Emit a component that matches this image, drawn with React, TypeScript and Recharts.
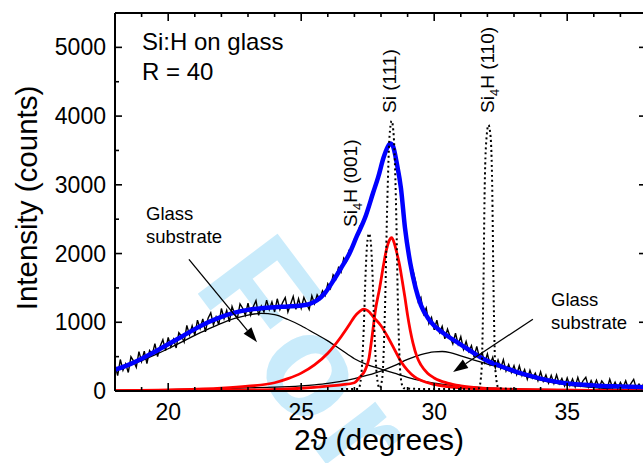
import { LineChart, Line, XAxis, YAxis, ReferenceLine } from 'recharts';

// raw scan: 18.0 .. 38.0 deg, 0.1 deg step
const scanStart = 18;
const scanStep = 0.1;
const scanCounts = [
  380, 224, 458, 302, 396, 270, 498, 436, 344, 572,
  430, 580, 400, 590, 530, 690, 502, 654, 746, 588,
  780, 642, 754, 626, 848, 800, 712, 954, 816, 948,
  810, 1030, 910, 1050, 860, 1060, 1136, 962, 1078, 964,
  1200, 1052, 1174, 1006, 1228, 1120, 1058, 1266, 1204, 1102,
  1280, 1105, 1230, 1315, 1100, 1235, 1148, 1321, 1184, 1297,
  1150, 1342, 1184, 1286, 1358, 1150, 1263, 1376, 1189, 1342,
  1205, 1362, 1269, 1185, 1385, 1270, 1400, 1335, 1460, 1390,
  1560, 1490, 1690, 1630, 1795, 1730, 1935, 1880, 2050, 2050,
  2210, 2230, 2400, 2410, 2560, 2590, 2770, 2860, 3030, 3100,
  3290, 3380, 3510, 3600, 3580, 3520, 3270, 3110, 2750, 2420,
  2180, 1800, 1760, 1590, 1300, 1360, 1120, 1210, 980, 1070,
  890, 1030, 850, 940, 760, 900, 790, 685, 840, 680,
  790, 605, 720, 575, 660, 495, 650, 485, 555, 415,
  540, 385, 490, 335, 450, 330, 455, 290, 385, 270,
  370, 238, 366, 224, 312, 170, 300, 190, 260, 150,
  280, 142, 234, 116, 228, 110, 234, 108, 182, 76,
  190, 77, 174, 61, 198, 75, 152, 199, 56, 153,
  60, 158, 47, 145, 94, 32, 171, 50, 128, 36,
  125, 50, 150, 38, 110, 170, 35, 100, 42, 130,
  80,
];

// total fit (blue)
const fitAngles = [18, 18.5, 19, 19.5, 20, 20.5, 21, 21.5, 22, 22.5, 23, 23.5, 24, 24.5, 25, 25.3, 25.6, 25.9, 26.2, 26.5, 26.8, 27.1, 27.4, 27.7, 27.9, 28.1, 28.25, 28.35, 28.45, 28.6, 28.75, 28.9, 29.1, 29.3, 29.5, 29.75, 30, 30.25, 30.5, 30.9, 31.3, 31.7, 32.1, 32.5, 33, 33.5, 34, 34.5, 35, 35.5, 36, 37, 38];
const fitCounts = [310, 380, 470, 570, 680, 790, 900, 1000, 1080, 1140, 1180, 1205, 1220, 1230, 1245, 1265, 1320, 1430, 1600, 1790, 1990, 2260, 2520, 2880, 3120, 3400, 3550, 3600, 3560, 3300, 2950, 2380, 1860, 1500, 1250, 1070, 950, 870, 800, 700, 600, 500, 420, 360, 290, 230, 180, 140, 110, 95, 80, 65, 55];

// glass substrate components (thin black)
const glassAAngles = [18, 18.5, 19, 19.5, 20, 20.5, 21, 21.5, 22, 22.5, 23, 23.5, 24, 24.5, 25, 25.5, 26, 26.5, 27, 27.5, 28, 28.5, 29, 29.5, 30, 30.5, 31, 32, 33, 34, 36, 38];
const glassACounts = [300, 365, 440, 525, 615, 710, 810, 900, 985, 1055, 1105, 1130, 1110, 1040, 950, 840, 730, 600, 470, 380, 320, 260, 200, 150, 115, 90, 70, 45, 30, 22, 12, 7];
const glassBAngles = [18, 20, 22, 23, 24, 25, 25.5, 26, 26.5, 27, 27.5, 28, 28.5, 29, 29.5, 30, 30.3, 30.6, 31, 31.5, 32, 32.5, 33, 33.5, 34, 34.5, 35, 36, 37, 38];
const glassBCounts = [10, 20, 35, 45, 55, 75, 90, 110, 140, 180, 230, 290, 370, 460, 530, 570, 575, 560, 510, 450, 390, 340, 270, 210, 160, 120, 90, 50, 25, 15];

// crystalline components (red)
const si4hAngles = [18, 20, 22, 23, 24, 24.5, 25, 25.5, 26, 26.5, 26.8, 27, 27.2, 27.35, 27.5, 27.75, 28, 28.25, 28.5, 28.75, 29, 29.25, 29.5, 30, 30.5, 31, 32, 34, 36, 38];
const si4hCounts = [5, 15, 40, 70, 120, 180, 260, 380, 550, 790, 960, 1080, 1160, 1190, 1170, 1060, 950, 790, 610, 430, 300, 210, 155, 95, 65, 45, 28, 14, 8, 5];
const siAngles = [18, 22, 24, 25, 26, 26.5, 27, 27.2, 27.4, 27.55, 27.66, 27.8, 27.95, 28.08, 28.2, 28.3, 28.4, 28.5, 28.6, 28.7, 28.8, 28.9, 29, 29.1, 29.2, 29.35, 29.5, 29.75, 30, 30.5, 31, 31.7, 32.5, 34, 36, 38];
const siCounts = [0, 10, 25, 40, 70, 90, 120, 200, 300, 480, 780, 1200, 1500, 1800, 2050, 2180, 2230, 2150, 2000, 1830, 1600, 1360, 1100, 880, 700, 500, 380, 260, 190, 115, 75, 45, 30, 15, 8, 5];

// reference patterns (dotted)
const refAngles = [26.5, 27.15, 27.25, 27.35, 27.42, 27.48, 27.55, 27.62, 27.68, 27.75, 27.85, 27.95, 28.05, 28.15, 28.24, 28.32, 28.4, 28.48, 28.56, 28.64, 28.74, 28.85, 29.5, 31.55, 31.68, 31.78, 31.85, 31.9, 31.97, 32.04, 32.12, 32.18, 32.23, 32.3, 32.42, 33.2];
const refCounts = [30, 30, 200, 900, 1700, 2150, 2290, 2150, 1700, 900, 200, 40, 200, 1200, 2800, 3700, 3930, 3700, 2800, 1200, 200, 40, 30, 30, 40, 300, 1500, 3000, 3700, 3870, 3700, 3000, 1500, 300, 40, 30];

const xTicks = [18, 19, 20, 21, 22, 23, 24, 25, 26, 27, 28, 29, 30, 31, 32, 33, 34, 35, 36, 37, 38];
const yTicks = [0, 500, 1000, 1500, 2000, 2500, 3000, 3500, 4000, 4500, 5000];

const leftArrow = [{ x: 20.78, y: 1916 }, { x: 23.34, y: 711 }];
const rightArrow = [{ x: 33.71, y: 1045 }, { x: 30.71, y: 276 }];

const pairs = (xs: number[], ys: number[]) => xs.map((x, i) => ({ x, y: ys[i] }));
const scanData = scanCounts.map((y, i) => ({ x: +(scanStart + i * scanStep).toFixed(2), y }));

const FONT = '"Liberation Sans", Arial, Helvetica, sans-serif';

const BottomTick = (props: any) => {
  const { x, y, payload } = props;
  const v = payload.value;
  const major = v % 5 === 0;
  return (
    <g>
      <line x1={x} y1={y} x2={x} y2={y - (major ? 8 : 4)} stroke="#000" strokeWidth={1.6} />
      {major && (
        <text x={x} y={y + 29} textAnchor="middle" fontSize={23} fontFamily={FONT} fill="#000">
          {v}
        </text>
      )}
    </g>
  );
};

const TopTick = (props: any) => {
  const { x, y, payload } = props;
  const major = payload.value % 5 === 0;
  return <line x1={x} y1={y} x2={x} y2={y + (major ? 8 : 4)} stroke="#000" strokeWidth={1.6} />;
};

const LeftTick = (props: any) => {
  const { x, y, payload } = props;
  const v = payload.value;
  const major = v % 1000 === 0;
  return (
    <g>
      <line x1={x} y1={y} x2={x + (major ? 7 : 4)} y2={y} stroke="#000" strokeWidth={1.6} />
      {major && (
        <text x={x - 9} y={y + 8} textAnchor="end" fontSize={23} fontFamily={FONT} fill="#000">
          {v}
        </text>
      )}
    </g>
  );
};

const RightTick = (props: any) => {
  const { x, y, payload } = props;
  const major = payload.value % 1000 === 0;
  return <line x1={x} y1={y} x2={x - (major ? 8 : 4)} y2={y} stroke="#000" strokeWidth={1.6} />;
};

const Arrow = (props: any) => {
  const { x1, y1, x2, y2 } = props;
  const dx = x2 - x1;
  const dy = y2 - y1;
  const len = Math.hypot(dx, dy) || 1;
  const ux = dx / len;
  const uy = dy / len;
  const hl = 15;
  const hw = 5;
  const bx = x2 - ux * hl;
  const by = y2 - uy * hl;
  return (
    <g>
      <line x1={x1} y1={y1} x2={bx} y2={by} stroke="#000" strokeWidth={1.3} />
      <polygon
        points={`${x2},${y2} ${bx - uy * hw},${by + ux * hw} ${bx + uy * hw},${by - ux * hw}`}
        fill="#000"
      />
    </g>
  );
};

const axisLine = { stroke: '#000', strokeWidth: 2 };

export default function App() {
  return (
    <div
      style={{
        position: 'absolute',
        left: 0,
        top: 0,
        width: 643,
        height: 463,
        overflow: 'hidden',
        background: '#fff',
        fontFamily: FONT,
      }}
    >
      <svg width={643} height={463} style={{ position: 'absolute', left: 0, top: 0 }}>
        <text
          x={192}
          y={286}
          transform="rotate(53 192 286)"
          fontSize={145}
          fontWeight={700}
          letterSpacing={8}
          fontFamily={FONT}
          fill="#c9ebfb"
        >
          For
        </text>
      </svg>
      <div style={{ position: 'absolute', left: 0, top: 0 }}>
        <LineChart width={650} height={463} margin={{ top: 0, right: 0, bottom: 0, left: 0 }}>
          <XAxis
            dataKey="x"
            type="number"
            domain={[18, 38]}
            allowDataOverflow
            ticks={xTicks}
            interval={0}
            height={72}
            tickSize={0}
            tickMargin={0}
            tickLine={false}
            tick={BottomTick}
            axisLine={axisLine}
          />
          <XAxis
            xAxisId="top"
            orientation="top"
            dataKey="x"
            type="number"
            domain={[18, 38]}
            allowDataOverflow
            ticks={xTicks}
            interval={0}
            height={13}
            tickSize={0}
            tickMargin={0}
            tickLine={false}
            tick={TopTick}
            axisLine={axisLine}
          />
          <YAxis
            type="number"
            domain={[0, 5500]}
            allowDataOverflow
            ticks={yTicks}
            interval={0}
            width={115}
            tickSize={0}
            tickMargin={0}
            tickLine={false}
            tick={LeftTick}
            axisLine={axisLine}
          />
          <YAxis
            yAxisId="right"
            orientation="right"
            type="number"
            domain={[0, 5500]}
            allowDataOverflow
            ticks={yTicks}
            interval={0}
            width={3}
            tickSize={0}
            tickMargin={0}
            tickLine={false}
            tick={RightTick}
            axisLine={axisLine}
          />
          <Line data={pairs(glassAAngles, glassACounts)} dataKey="y" type="monotone" stroke="#000" strokeWidth={1.3} dot={false} isAnimationActive={false} />
          <Line data={pairs(glassBAngles, glassBCounts)} dataKey="y" type="monotone" stroke="#000" strokeWidth={1.3} dot={false} isAnimationActive={false} />
          <Line data={pairs(si4hAngles, si4hCounts)} dataKey="y" type="monotone" stroke="#ff0000" strokeWidth={2.8} dot={false} isAnimationActive={false} />
          <Line data={pairs(siAngles, siCounts)} dataKey="y" type="monotone" stroke="#ff0000" strokeWidth={2.8} dot={false} isAnimationActive={false} />
          <Line data={scanData} dataKey="y" type="linear" stroke="#000" strokeWidth={1.4} dot={false} isAnimationActive={false} />
          <Line data={pairs(fitAngles, fitCounts)} dataKey="y" type="monotone" stroke="#0000ff" strokeWidth={4.5} dot={false} isAnimationActive={false} />
          <Line data={pairs(refAngles, refCounts)} dataKey="y" type="monotone" stroke="#000" strokeWidth={2} strokeDasharray="2 3" dot={false} isAnimationActive={false} />
          <ReferenceLine segment={leftArrow} shape={Arrow} />
          <ReferenceLine segment={rightArrow} shape={Arrow} />
        </LineChart>
      </div>
      <svg
        width={643}
        height={463}
        style={{ position: 'absolute', left: 0, top: 0, pointerEvents: 'none' }}
        fontFamily={FONT}
        fill="#000"
      >
        <text x={142} y={50} fontSize={24}>Si:H on glass</text>
        <text x={142} y={80} fontSize={24}>R = 40</text>
        <text x={146} y={220} fontSize={18.5}>Glass</text>
        <text x={146} y={243} fontSize={18.5}>substrate</text>
        <text x={551} y={306} fontSize={18.5}>Glass</text>
        <text x={551} y={329} fontSize={18.5}>substrate</text>
        <text transform="translate(357 227) rotate(-90)" fontSize={19}>
          Si<tspan fontSize={13} dy={5}>4</tspan>
          <tspan dy={-5}>H (001)</tspan>
        </text>
        <text transform="translate(396 113) rotate(-90)" fontSize={19}>Si (111)</text>
        <text transform="translate(494 113) rotate(-90)" fontSize={19}>
          Si<tspan fontSize={13} dy={5}>4</tspan>
          <tspan dy={-5}>H (110)</tspan>
        </text>
        <text transform="translate(37 198) rotate(-90)" fontSize={29.5} textAnchor="middle">
          Intensity (counts)
        </text>
        <text x={379} y={450} fontSize={30} textAnchor="middle">
          2ϑ (degrees)
        </text>
      </svg>
    </div>
  );
}
